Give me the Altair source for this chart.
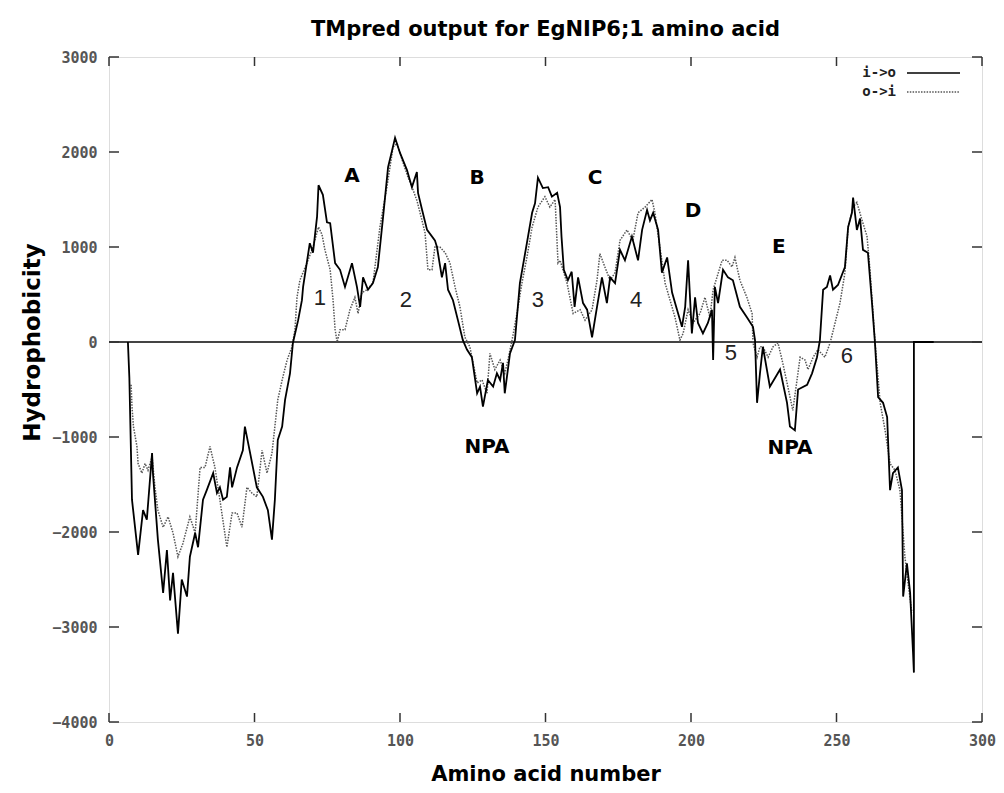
import altair as alt
import pandas as pd

# ---- data (amino acid number, hydrophobicity) ----
io_x = [6.5, 7, 7.9, 10, 11.7, 13, 14.8, 15.1, 16.8, 18.6, 19.9, 21, 22, 23.7, 25, 26.8, 27.8, 29.6, 30.6, 32.3,
        33.6, 35.8, 37.1, 38.1, 39.2, 40.5, 41.6, 42.3, 44, 46, 46.7, 48.5, 50.8, 52.9, 54.6, 56, 57, 58, 59.5, 60.5,
        62.2, 63.2, 65, 66.3, 66.7, 69, 70.1, 71.5, 72, 73.5, 74.9, 76, 77.7, 79.4, 81.1, 83.5, 85.2, 86.3, 87.3, 89,
        90.7, 92.4, 94.2, 95.9, 97.3, 98.3, 100, 102.4, 104.1, 105.8, 106.2, 107.6, 109.3, 112, 112.7, 114.4, 115.5,
        116.5, 118.2, 119.9, 121.6, 123, 124.7, 126.5, 127.5, 128.5, 130.2, 132, 133.3, 134.4, 135.4, 136, 137.8,
        139.5, 141.2, 143.6, 145.4, 146.4, 147.4, 149.1, 150.9, 152.2, 154, 155, 155.5, 156.3, 157.7, 159, 160, 161.2,
        162.9, 164.3, 166, 167.7, 169.4, 171.1, 172.2, 173.9, 175.6, 177.3, 179.7, 181.8, 183.2, 184.9, 185.9, 187,
        188.7, 190, 191.8, 193.5, 195.2, 196.9, 198, 199, 200.3, 201.4, 202.4, 204.1, 205.8, 207.2, 207.6, 208.2,
        209.3, 211, 212.7, 214.4, 216.8, 219.2, 221.3, 222, 222.7, 223.7, 224.7, 227.1, 230.6, 233, 234, 235.7, 236.8,
        239.9, 241.6, 243.3, 244.3, 245.4, 246.7, 247.8, 248.8, 250.5, 252.9, 254, 255.3, 255.7, 257, 258.1, 259.1,
        260.8, 262.2, 263.2, 264.3, 266, 267.4, 268.4, 269.4, 271.1, 272.5, 272.9, 274.2, 275.3, 276.3, 276.6, 276.6,
        283.4]
io_y = [0, -380, -1660, -2240, -1770, -1870, -1170, -1380, -2080, -2640, -2190, -2720, -2430, -3070, -2500, -2680,
        -2260, -2010, -2160, -1660, -1560, -1380, -1590, -1530, -1660, -1630, -1320, -1530, -1320, -1140, -890,
        -1170, -1530, -1630, -1770, -2080, -1660, -1030, -890, -610, -330, -10, 230, 440, 580, 1040, 940, 1320,
        1650, 1550, 1260, 1250, 830, 760, 580, 830, 580, 370, 680, 550, 620, 790, 1320, 1840, 2020, 2150, 1990,
        1810, 1630, 1790, 1570, 1390, 1180, 1070, 1000, 680, 830, 550, 440, 230, 20, -80, -160, -540, -470, -680,
        -400, -470, -330, -400, -220, -540, -120, 20, 620, 1040, 1360, 1460, 1730, 1620, 1630, 1530, 1570, 1420,
        1110, 760, 650, 740, 370, 680, 410, 340, 50, 370, 680, 410, 680, 620, 970, 860, 1110, 860, 1180, 1390,
        1280, 1360, 1180, 730, 890, 520, 340, 160, 370, 860, 90, 470, 200, 90, 200, 340, -190, 580, 410, 760, 680,
        650, 370, 260, 160, 20, -640, -330, -50, -470, -290, -640, -890, -930, -500, -450, -330, -160, 20, 550,
        580, 700, 550, 600, 790, 1210, 1360, 1520, 1180, 1300, 970, 940, 410, 0, -580, -640, -790, -1560, -1380,
        -1320, -1560, -2680, -2330, -2640, -3270, -3480, 0, 0]

oi_x = [7.6, 7.9, 8.4, 9.6, 10, 11.3, 12.4, 13.4, 14.8, 15.8, 16.8, 18.6, 20.3, 22, 23.7, 25.4, 27.8, 29.6, 31.3,
        33, 34.7, 36.4, 38.1, 40.5, 42.3, 44, 45.7, 47.4, 49.1, 50.8, 52.6, 54.3, 56, 57, 58, 59.5, 61.2, 62.9,
        63.9, 64.6, 65.6, 68, 70.1, 72, 73.2, 74.2, 76, 77, 77.7, 78.4, 79.4, 81.1, 82.8, 84.5, 85.6, 86.9, 88.7,
        90.7, 93.1, 95.5, 97.6, 99, 100.7, 102.7, 104.5, 105.8, 106.9, 108.6, 109.6, 111, 112, 113.7, 115.5, 117.2,
        118.9, 120.6, 122.3, 124, 126.5, 128.2, 129.9, 130.9, 132.6, 134.4, 136, 137.1, 138.5, 140.2, 141.9, 143.6,
        145.4, 147.4, 149.8, 151.5, 153.3, 154.3, 155, 157.4, 159.5, 161.9, 163.6, 166, 167.7, 168.7, 170.4, 172.2,
        173.9, 175.6, 178, 180, 181.8, 184.2, 186.6, 187.6, 189.3, 191.1, 192.8, 194.5, 196.2, 197.3, 199, 200.7,
        203.1, 204.8, 206.5, 207.6, 208.9, 210.7, 212.4, 214.1, 215.1, 216.8, 219.2, 221, 221.3, 222.7, 223.7,
        224.7, 226.5, 228.2, 229.9, 231.3, 233, 235, 237.5, 239.2, 240.2, 242, 243.6, 246, 247.8, 249.5, 251.2,
        252.9, 254, 255.7, 257, 258.8, 260.5, 261.5, 263.2, 265, 266.7, 268.4, 270.1, 271.8, 273.5, 274.6, 275.9]
oi_y = [-450, -680, -890, -1100, -1280, -1380, -1280, -1350, -1210, -1530, -1770, -1950, -1840, -2010, -2260, -2120,
        -1840, -2010, -1320, -1320, -1100, -1320, -1660, -2160, -1800, -1800, -1950, -1530, -1590, -1630, -1140,
        -1380, -1170, -890, -610, -400, -190, -50, 130, 470, 650, 830, 1000, 1210, 1130, 970, 760, 440, 130, 0,
        130, 130, 340, 470, 300, 520, 550, 620, 1210, 1630, 2050, 2090, 1920, 1740, 1600, 1490, 1360, 1150, 760,
        760, 1000, 1000, 940, 830, 580, 370, 50, -50, -430, -400, -540, -120, -290, -190, -330, -190, 20, 300, 620,
        890, 1210, 1420, 1530, 1420, 1500, 830, 860, 620, 300, 340, 230, 340, 650, 930, 790, 650, 730, 1070, 1180,
        1070, 1360, 1420, 1500, 1360, 1000, 620, 440, 260, 20, 90, 340, 200, 300, 470, 260, 550, 680, 860, 860, 790,
        890, 650, 470, 300, -10, -160, -50, -50, -160, -50, -10, -190, -430, -720, -160, -190, -290, -160, -80,
        -160, -10, 200, 410, 730, 1210, 1420, 1470, 1280, 1110, 760, 20, -640, -930, -1280, -1350, -1560, -2260,
        -2540, -2850]

letter_labels = ["A", "B", "C", "D", "E", "NPA", "NPA"]
letter_x = [83.5, 126.5, 167, 200.7, 230.2, 129.9, 234]
letter_y = [1747, 1726, 1726, 1379, 1000, -1105, -1116]

number_labels = ["1", "2", "3", "4", "5", "6"]
number_x = [72.5, 102, 147.4, 181.1, 213.7, 253.6]
number_y = [463, 442, 442, 442, -116, -147]

x_ticks = [0, 50, 100, 150, 200, 250, 300]
y_ticks = [-4000, -3000, -2000, -1000, 0, 1000, 2000, 3000]

series_names = ["i->o", "o->i"]

W, H = 873, 665
FRAME = "#333333"

io_df = pd.DataFrame({"aa": io_x, "h": io_y, "i": range(len(io_x))})
oi_df = pd.DataFrame({"aa": oi_x, "h": oi_y, "i": range(len(oi_x))})
let_df = pd.DataFrame({"aa": letter_x, "h": letter_y, "t": letter_labels})
num_df = pd.DataFrame({"aa": number_x, "h": number_y, "t": number_labels})
xt_df = pd.DataFrame({"v": x_ticks})
yt_df = pd.DataFrame({"v": y_ticks})
zero_df = pd.DataFrame({"h": [0]})
leg_df = pd.DataFrame({"a": [0]})

xscale = alt.Scale(domain=[0, 300], nice=False, zero=False)
yscale = alt.Scale(domain=[-4000, 3000], nice=False, zero=False)

xaxis = alt.Axis(values=x_ticks, ticks=False, domain=False, grid=False, labelPadding=11, labelFlush=False,
                 format="d", labelFont="DejaVu Sans Mono", labelFontSize=15, labelFontWeight="bold",
                 labelColor="#555555",
                 title="Amino acid number", titleFont="DejaVu Sans", titleFontSize=21, titleFontWeight="bold",
                 titleColor="#000000", titlePadding=15)
yaxis = alt.Axis(values=y_ticks, ticks=False, domain=False, grid=False, labelPadding=12, labelFlush=False,
                 format="d", labelFont="DejaVu Sans Mono", labelFontSize=15, labelFontWeight="bold",
                 labelColor="#555555",
                 title="Hydrophobicity", titleFont="DejaVu Sans", titleFontSize=23, titleFontWeight="bold",
                 titleColor="#000000", titlePadding=7, titleY=285)


def X(f):
    return alt.X(f, type="quantitative", scale=xscale, axis=xaxis)


def Y(f):
    return alt.Y(f, type="quantitative", scale=yscale, axis=yaxis)


zero = alt.Chart(zero_df).mark_rule(color="#444444", strokeWidth=2).encode(y=Y("h"))

dotted = alt.Chart(oi_df).mark_line(color="#555555", strokeWidth=1.5, strokeDash=[1.5, 1.3]).encode(
    x=X("aa"), y=Y("h"), order=alt.Order("i:Q"))

solid = alt.Chart(io_df).mark_line(color="#000000", strokeWidth=1.8).encode(
    x=X("aa"), y=Y("h"), order=alt.Order("i:Q"))

letters = alt.Chart(let_df).mark_text(font="DejaVu Sans", fontSize=20, fontWeight="bold", color="#000000",
                                      align="center", baseline="middle").encode(x=X("aa"), y=Y("h"), text="t:N")

numbers = alt.Chart(num_df).mark_text(font="Liberation Sans", fontSize=22, color="#222222",
                                      align="center", baseline="middle").encode(x=X("aa"), y=Y("h"), text="t:N")

tick_style = dict(color=FRAME, strokeWidth=1.5)
bt = alt.Chart(xt_df).mark_rule(**tick_style).encode(x=X("v"), y=alt.value(H - 9), y2=alt.value(H))
tt = alt.Chart(xt_df).mark_rule(**tick_style).encode(x=X("v"), y=alt.value(0), y2=alt.value(9))
lt = alt.Chart(yt_df).mark_rule(**tick_style).encode(y=Y("v"), x=alt.value(0), x2=alt.value(10))
rt = alt.Chart(yt_df).mark_rule(**tick_style).encode(y=Y("v"), x=alt.value(W - 10), x2=alt.value(W))

leg_base = alt.Chart(leg_df)
leg_t1 = leg_base.mark_text(text=series_names[0], font="DejaVu Sans Mono", fontSize=14, fontWeight="bold",
                            color="#222222", align="right", baseline="middle").encode(
    x=alt.value(787), y=alt.value(16))
leg_t2 = leg_base.mark_text(text=series_names[1], font="DejaVu Sans Mono", fontSize=14, fontWeight="bold",
                            color="#222222", align="right", baseline="middle").encode(
    x=alt.value(787), y=alt.value(35))
leg_l1 = leg_base.mark_rule(color="#000000", strokeWidth=1.6).encode(
    x=alt.value(798), x2=alt.value(851), y=alt.value(16))
leg_l2 = leg_base.mark_rule(color="#555555", strokeWidth=1.5, strokeDash=[1.5, 1.3]).encode(
    x=alt.value(798), x2=alt.value(851), y=alt.value(35))

chart = alt.layer(
    zero, dotted, solid, letters, numbers, bt, tt, lt, rt, leg_t1, leg_t2, leg_l1, leg_l2
).properties(
    width=W, height=H,
    title=alt.TitleParams("TMpred output for EgNIP6;1 amino acid", font="DejaVu Sans", fontSize=21,
                          fontWeight="bold", color="#000000", anchor="middle", offset=10),
    autosize=alt.AutoSizeParams(type="none"),
    padding={"left": 101, "top": 49, "right": 14, "bottom": 68},
).configure_view(
    stroke=FRAME, strokeWidth=2
).configure(background="#ffffff")

chart.save("out.html", embed_options={"renderer": "svg", "actions": False})
